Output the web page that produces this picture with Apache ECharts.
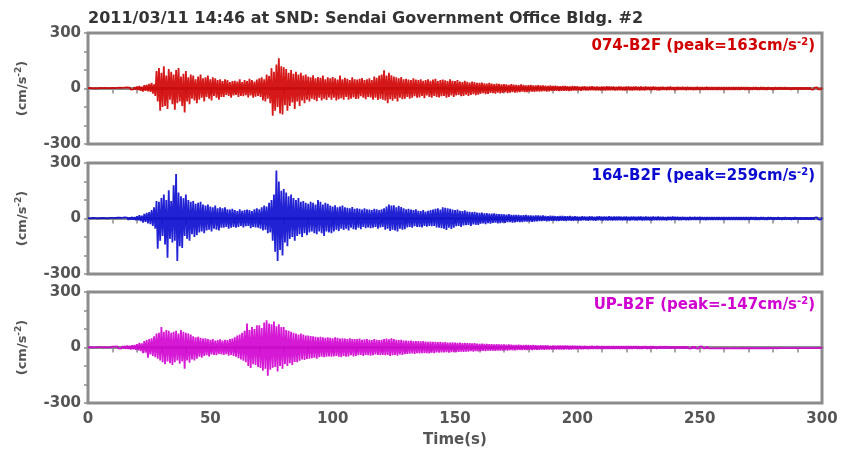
<!DOCTYPE html>
<html>
<head>
<meta charset="utf-8">
<script src="https://cdn.jsdelivr.net/npm/echarts@6/dist/echarts.min.js"></script>
<style>html,body{margin:0;padding:0;background:#fff}#c{width:843px;height:453px}</style>
</head>
<body>
<div id="c"></div>
<script>
var title = '2011/03/11 14:46 at SND: Sendai Government Office Bldg. #2';
var channelNames = ['074-B2F', '164-B2F', 'UP-B2F'];
var peaks = ['163', '259', '-147'];
var sampleStep = 0.5; // seconds between samples
var xTicks = [0, 50, 100, 150, 200, 250, 300];
var yTicks = [-300, 0, 300];

var ch074 = [
2,-1,3,-2,1,-2,2,-3,1,-2,
3,-2,2,-1,3,-2,2,-3,2,-1,
3,-3,2,-4,3,-2,4,-3,3,-4,
5,-4,6,-3,5,-6,4,-5,7,-6,
10,-8,14,-12,9,-16,18,-12,20,-15,
25,-18,30,-28,22,-40,95,-70,110,-120,
85,-100,120,-95,70,-110,105,-60,90,-85,
75,-115,100,-80,110,-70,65,-95,80,-130,
95,-70,60,-85,75,-55,70,-65,50,-80,
65,-60,75,-50,55,-70,60,-45,70,-55,
50,-65,60,-40,55,-50,45,-60,50,-45,
40,-45,50,-35,45,-40,35,-50,40,-38,
42,-35,38,-45,50,-40,35,-42,45,-36,
40,-48,52,-38,45,-50,38,-44,48,-40,
55,-45,60,-65,50,-70,75,-55,68,-80,
110,-147,90,-120,130,-100,163,-135,120,-140,
115,-90,105,-120,85,-95,100,-75,80,-110,
90,-70,75,-95,85,-65,70,-80,75,-60,
65,-70,60,-55,72,-60,55,-68,62,-50,
58,-65,70,-55,50,-62,60,-48,55,-60,
62,-50,55,-65,48,-58,70,-52,50,-60,
58,-45,52,-60,45,-55,60,-48,50,-56,
48,-55,52,-42,56,-50,45,-58,50,-46,
55,-48,45,-60,65,-50,58,-62,70,-55,
75,-60,98,-65,70,-80,85,-58,72,-66,
65,-55,60,-70,55,-50,62,-58,50,-55,
52,-45,48,-55,45,-50,55,-42,48,-50,
45,-48,50,-40,42,-52,46,-38,50,-45,
42,-50,48,-40,52,-45,40,-48,45,-42,
48,-40,44,-50,40,-46,50,-38,42,-45,
40,-38,45,-35,38,-42,35,-40,42,-34,
36,-40,32,-35,38,-30,34,-36,30,-33,
30,-28,32,-25,28,-30,26,-29,30,-24,
27,-25,24,-28,26,-22,25,-26,22,-24,
24,-20,22,-25,20,-22,23,-19,21,-22,
20,-21,18,-20,22,-17,19,-20,17,-19,
18,-16,19,-17,16,-18,17,-15,18,-16,
16,-15,17,-14,15,-16,14,-15,16,-13,
14,-13,15,-12,13,-14,12,-13,14,-12,
13,-12,12,-13,11,-12,13,-11,12,-11,
12,-11,10,-12,11,-10,12,-11,10,-11,
11,-10,12,-9,10,-11,11,-10,9,-11,
11,-10,10,-11,12,-9,10,-10,11,-9,
10,-11,9,-10,11,-9,10,-11,9,-10,
10,-9,11,-10,9,-10,10,-9,11,-9,
9,-10,10,-9,9,-10,10,-8,9,-9,
9,-9,10,-8,9,-9,8,-10,9,-8,
9,-8,8,-9,9,-8,10,-8,8,-9,
8,-9,9,-8,8,-8,9,-7,8,-9,
9,-8,8,-8,7,-9,8,-8,9,-7,
8,-8,7,-8,8,-7,9,-8,7,-8,
8,-7,8,-8,7,-8,8,-7,7,-8,
7,-8,8,-7,7,-7,8,-7,7,-8,
8,-7,7,-7,8,-6,7,-7,7,-7,
7,-7,6,-7,7,-6,7,-7,6,-7,
7,-6,7,-7,6,-7,7,-6,6,-7,
6,-7,7,-6,6,-6,7,-6,6,-6,
7,-6,6,-6,6,-7,6,-6,6,-5,
6,-6,5,-6,6,-5,6,-6,5,-6,
6,-5,5,-6,5,-5,6,-5,5,-5,
5];

var ch164 = [
2,-2,1,-2,3,-1,2,-2,1,-3,
2,-1,3,-2,2,-3,1,-2,3,-2,
3,-4,2,-3,4,-3,5,-4,3,-5,
6,-4,5,-7,6,-5,8,-6,7,-9,
12,-10,18,-14,15,-22,25,-18,30,-26,
35,-30,45,-40,60,-55,95,-163,90,-120,
110,-95,130,-140,100,-212,152,-110,95,-130,
180,-120,240,-229,140,-150,120,-160,110,-95,
130,-110,100,-120,90,-85,95,-100,80,-90,
85,-75,90,-70,75,-80,70,-65,75,-60,
65,-70,60,-55,70,-60,55,-65,60,-50,
55,-50,60,-45,50,-55,48,-50,52,-45,
45,-50,40,-45,50,-40,42,-48,45,-42,
48,-40,45,-52,40,-45,50,-48,55,-50,
50,-55,60,-65,70,-60,65,-80,85,-75,
100,-120,130,-180,259,-229,200,-170,150,-200,
160,-130,140,-150,120,-110,130,-100,110,-120,
100,-95,110,-85,90,-100,95,-80,85,-90,
80,-75,90,-70,85,-80,75,-85,100,-70,
90,-80,75,-95,85,-70,80,-75,70,-80,
65,-70,72,-60,60,-68,65,-55,70,-62,
60,-55,58,-65,55,-50,62,-58,52,-60,
55,-50,52,-58,48,-45,55,-52,50,-48,
48,-52,45,-50,52,-45,50,-55,45,-48,
50,-45,55,-60,65,-55,75,-68,70,-60,
72,-65,60,-70,68,-55,62,-60,55,-58,
50,-48,52,-45,48,-50,45,-42,50,-45,
42,-45,40,-48,45,-40,38,-44,42,-40,
45,-42,48,-40,52,-48,55,-50,48,-52,
60,-55,58,-62,55,-50,52,-56,48,-50,
45,-42,48,-40,42,-45,40,-38,44,-36,
38,-35,36,-40,34,-32,36,-34,32,-35,
30,-28,32,-26,28,-30,29,-25,27,-28,
26,-24,28,-22,25,-26,23,-25,24,-22,
22,-24,21,-20,23,-19,20,-22,19,-21,
20,-18,19,-20,17,-19,18,-17,19,-16,
17,-16,16,-18,15,-16,17,-15,16,-14,
15,-14,16,-13,14,-15,13,-14,15,-13,
14,-12,13,-14,12,-13,14,-12,13,-12,
12,-13,12,-11,13,-12,11,-12,12,-11,
11,-12,10,-11,12,-10,11,-11,10,-12,
12,-10,11,-11,10,-12,11,-10,12,-10,
10,-11,11,-10,10,-11,12,-10,10,-11,
11,-10,10,-10,11,-9,10,-11,10,-9,
10,-10,9,-11,10,-9,11,-10,9,-10,
10,-9,10,-10,9,-10,10,-9,9,-10,
9,-10,10,-9,9,-9,10,-9,9,-9,
9,-9,8,-10,9,-8,9,-9,10,-8,
9,-8,9,-9,8,-9,9,-8,8,-9,
8,-9,9,-8,8,-8,9,-8,8,-8,
9,-8,8,-8,8,-9,8,-7,8,-8,
8,-8,7,-8,8,-7,8,-8,7,-8,
8,-7,8,-7,7,-8,8,-7,7,-7,
7,-8,7,-7,8,-7,7,-7,7,-8,
7,-7,8,-6,7,-7,7,-7,6,-7,
7,-6,7,-7,6,-7,7,-6,7,-6,
6,-7,6,-6,7,-6,6,-7,6,-6,
7,-6,6,-6,6,-7,6,-6,7,-6,
6,-6,6,-5,6,-6,5,-6,6,-6,
6,-5,6,-6,5,-5,6,-5,5,-6,
5];

var chUP = [
1,-1,2,-1,1,-2,1,-1,2,-1,
2,-1,1,-2,2,-2,1,-1,2,-2,
4,-3,5,-4,6,-5,4,-6,7,-5,
8,-7,10,-8,9,-11,12,-10,14,-12,
18,-15,25,-20,22,-30,35,-28,40,-55,
45,-38,50,-45,60,-52,75,-60,80,-70,
110,-80,85,-90,95,-75,90,-85,80,-95,
85,-80,90,-70,75,-88,95,-75,85,-115,
80,-70,75,-82,70,-65,60,-70,55,-60,
58,-50,52,-55,48,-45,50,-42,45,-48,
42,-38,45,-40,38,-42,40,-35,44,-38,
38,-40,42,-36,40,-44,45,-40,48,-45,
55,-50,65,-58,70,-65,80,-72,90,-80,
130,-100,95,-110,110,-90,100,-95,120,-105,
120,-110,105,-125,135,-115,147,-152,130,-120,
125,-110,140,-105,115,-130,125,-100,110,-115,
110,-90,95,-100,90,-85,85,-95,80,-78,
75,-80,70,-72,75,-65,70,-68,65,-62,
65,-60,62,-58,60,-55,58,-60,55,-52,
58,-50,55,-52,52,-50,55,-48,52,-50,
50,-48,55,-45,52,-50,48,-52,50,-45,
48,-50,45,-48,50,-42,46,-48,45,-45,
45,-42,48,-40,42,-45,44,-40,46,-42,
42,-44,40,-42,45,-38,42,-40,40,-42,
42,-40,45,-42,48,-40,44,-45,50,-42,
45,-40,42,-44,40,-38,42,-40,38,-36,
38,-35,36,-34,38,-32,35,-34,34,-30,
34,-32,33,-30,35,-30,32,-31,30,-32,
32,-28,30,-30,31,-27,29,-28,30,-26,
28,-27,29,-25,27,-28,26,-25,28,-25,
26,-25,25,-24,26,-22,24,-24,25,-22,
23,-22,24,-20,22,-22,23,-20,21,-21,
20,-19,21,-18,19,-19,20,-17,18,-18,
18,-17,17,-18,18,-16,17,-17,16,-16,
16,-15,15,-16,16,-14,15,-15,14,-15,
14,-14,15,-13,13,-14,14,-13,13,-13,
13,-12,12,-13,13,-12,12,-12,11,-12,
12,-11,11,-12,12,-11,11,-11,10,-11,
11,-10,10,-11,11,-10,10,-10,10,-10,
10,-9,10,-10,9,-10,10,-9,9,-9,
9,-8,9,-9,8,-9,9,-8,8,-9,
8,-8,9,-8,8,-8,9,-7,8,-8,
8,-8,7,-8,8,-7,8,-8,7,-8,
8,-7,8,-7,7,-8,7,-7,8,-7,
7,-7,8,-7,7,-7,7,-6,7,-7,
7,-7,6,-7,7,-6,7,-7,6,-7,
7,-6,7,-6,6,-7,6,-6,7,-6,
6,-6,7,-6,6,-6,6,-6,6,-6,
6,-6,6,-5,6,-6,5,-6,6,-5,
6,-5,5,-6,6,-5,6,-5,5,-6,
5,-5,6,-5,5,-5,6,-5,5,-5,
5,-5,5,-5,5,-5,5,-4,5,-5,
5,-4,5,-5,4,-5,5,-4,5,-4,
4,-5,4,-4,5,-4,4,-4,5,-4,
4,-4,4,-4,4,-4,4,-4,4,-4,
4,-4,4,-3,4,-4,3,-4,4,-3,
4,-3,3,-4,4,-3,3,-3,4,-3,
3,-3,4,-3,3,-3,3,-3,3,-3,
3,-3,3,-3,3,-3,3,-3,3,-3,
3,-3,3,-3,3,-3,3,-3,3,-3,
3];

var channels = [ch074, ch164, chUP];
var colors = ['#d00000', '#0a0ad0', '#d000d0'];
var gridTops = [33, 163, 292];
var gridHeight = 111;
var axisGray = '#8c8c8c';
var textGray = '#555555';
var font = 'DejaVu Sans';

function toPairs(arr) {
  return arr.map(function (v, i) { return [i * sampleStep, v]; });
}

var grids = [], xAxes = [], yAxes = [], series = [], graphics = [];
for (var k = 0; k < 3; k++) {
  grids.push({ left: 88, right: 21, top: gridTops[k], height: gridHeight,
    show: true, borderColor: axisGray, borderWidth: 3, backgroundColor: '#fff' });
  xAxes.push({
    type: 'value', gridIndex: k, min: xTicks[0], max: xTicks[xTicks.length - 1], interval: 50,
    axisLine: { show: true, lineStyle: { color: axisGray, width: 3 } },
    axisTick: { show: true, length: 5, lineStyle: { color: axisGray, width: 1.5 } },
    minorTick: { show: true, splitNumber: 5, length: 5, lineStyle: { color: axisGray, width: 1.5 } },
    splitLine: { show: false },
    axisLabel: { show: k === 2, color: textGray, fontFamily: font, fontWeight: 'bold', fontSize: 15, margin: 9 },
    name: k === 2 ? 'Time(s)' : '', nameLocation: 'middle', nameGap: 30,
    nameTextStyle: { color: textGray, fontFamily: font, fontWeight: 'bold', fontSize: 15 }
  });
  yAxes.push({
    type: 'value', gridIndex: k, min: yTicks[0], max: yTicks[yTicks.length - 1], interval: 300,
    axisLine: { show: true, lineStyle: { color: axisGray, width: 2 } },
    axisTick: { show: true, length: 4, lineStyle: { color: axisGray, width: 1.5 } },
    minorTick: { show: true, splitNumber: 3, length: 4, lineStyle: { color: axisGray, width: 1.5 } },
    splitLine: { show: false },
    axisLabel: { color: textGray, fontFamily: font, fontWeight: 'bold', fontSize: 15, margin: 7 },
    name: '{a|(cm/s}{s|-2}{a|)}', nameLocation: 'middle', nameGap: 56, nameRotate: 90,
    nameTextStyle: { rich: {
      a: { color: textGray, fontFamily: font, fontWeight: 'bold', fontSize: 13, lineHeight: 18 },
      s: { color: textGray, fontFamily: font, fontWeight: 'bold', fontSize: 9, lineHeight: 18, padding: [0, 0, 8, 0] }
    } }
  });
  series.push({
    type: 'line', xAxisIndex: k, yAxisIndex: k, data: toPairs(channels[k]),
    symbol: 'none', sampling: null, animation: false,
    lineStyle: { color: colors[k], width: 1.8, opacity: 0.9, join: 'bevel' }
  });
  graphics.push({
    type: 'text', right: 28, top: gridTops[k] + 4,
    style: {
      text: '{a|' + channelNames[k] + ' (peak=' + peaks[k] + 'cm/s}{s|-2}{a|)}',
      rich: {
        a: { fill: colors[k], fontFamily: font, fontWeight: 'bold', fontSize: 15, lineHeight: 18 },
        s: { fill: colors[k], fontFamily: font, fontWeight: 'bold', fontSize: 10, lineHeight: 18, padding: [0, 0, 8, 0] }
      }
    }
  });
}
graphics.push({
  type: 'text', left: 88, top: 11,
  style: { text: title, fill: '#333', fontFamily: font, fontWeight: 'bold', fontSize: 16 }
});

var chart = echarts.init(document.getElementById('c'), null, { renderer: 'canvas' });
chart.setOption({
  animation: false,
  backgroundColor: '#fff',
  grid: grids, xAxis: xAxes, yAxis: yAxes, series: series, graphic: graphics
});
</script>
</body>
</html>
